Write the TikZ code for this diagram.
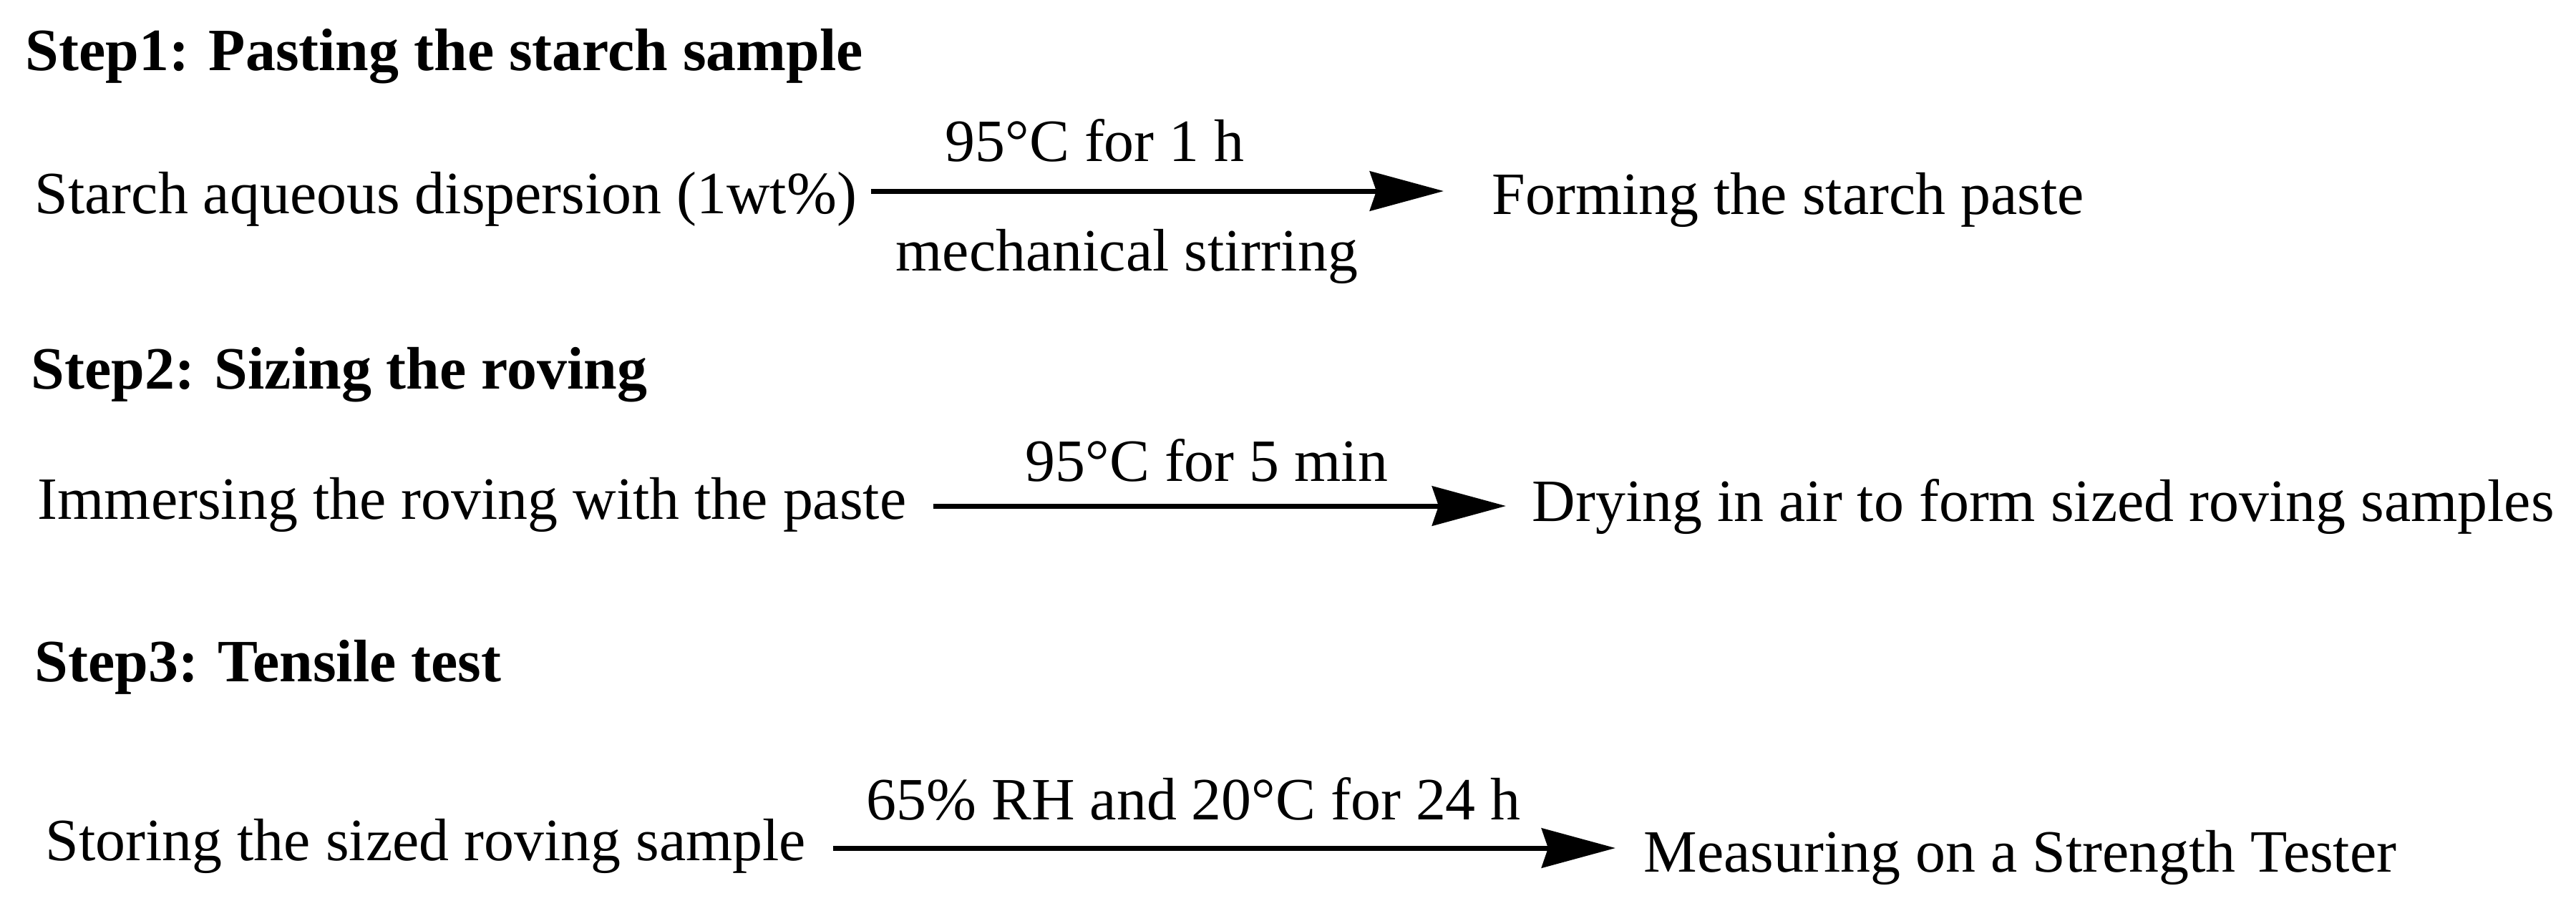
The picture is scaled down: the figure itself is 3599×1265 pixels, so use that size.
\documentclass[tikz,border=0pt]{standalone}
\usepackage{fontspec}
\setmainfont{Liberation Serif}
\usetikzlibrary{arrows.meta}
\begin{document}
\begin{tikzpicture}[x=0.01cm,y=-0.01cm,
  txt/.style={inner sep=0pt, anchor=base west, font=\fontsize{23.85}{28}\selectfont},
  ttl/.style={inner sep=0pt, anchor=base west, font=\fontsize{23.85}{28}\selectfont\bfseries},
  arr/.style={line width=0.07cm, -{Stealth[length=1.03cm,width=0.55cm,inset=0.09cm]}}]
\useasboundingbox (0,0) rectangle (3599,1265);
% Step 1
\node[ttl] (t1) at (35,98) {Step1: Pasting the starch sample};
\node[txt] (a1) at (48,298) {Starch aqueous dispersion (1wt\%)};
\node[txt] (b1) at (2084,299) {Forming the starch paste};
\node[txt] (u1) at (1320,225) {95°C for 1 h};
\node[txt] (l1) at (1251,378) {mechanical stirring};
\draw[arr] ([shift={(19,-31)}]a1.base east) -- ([shift={(-67,-32)}]b1.base west);
% Step 2
\node[ttl] (t2) at (43,543) {Step2: Sizing the roving};
\node[txt] (a2) at (52,725) {Immersing the roving with the paste};
\node[txt] (b2) at (2140,728) {Drying in air to form sized roving samples};
\node[txt] (u2) at (1432,672) {95°C for 5 min};
\draw[arr] ([shift={(37,-18)}]a2.base east) -- ([shift={(-36,-21)}]b2.base west);
% Step 3
\node[ttl] (t3) at (48,952) {Step3: Tensile test};
\node[txt] (a3) at (63,1202) {Storing the sized roving sample};
\node[txt] (b3) at (2296,1218) {Measuring on a Strength Tester};
\node[txt] (u3) at (1210,1145) {65\% RH and 20°C for 24 h};
\draw[arr] ([shift={(37,-17)}]a3.base east) -- ([shift={(-39,-33)}]b3.base west);
\end{tikzpicture}
\end{document}
